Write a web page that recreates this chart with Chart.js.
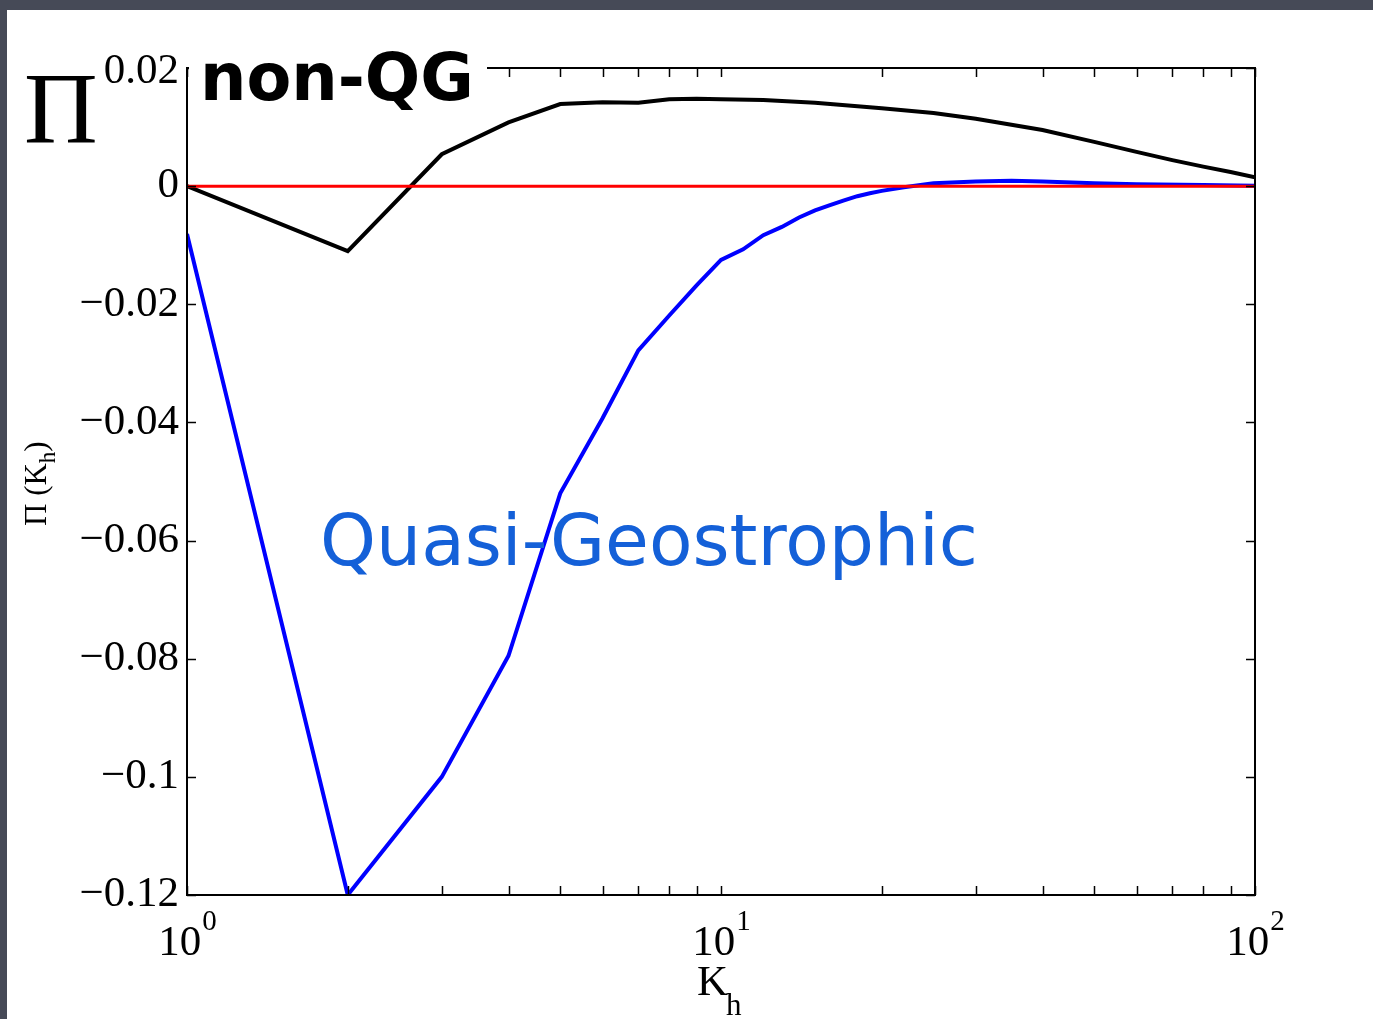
<!DOCTYPE html>
<html>
<head>
<meta charset="utf-8">
<script src="https://cdn.jsdelivr.net/npm/chart.js@4.4.1/dist/chart.umd.min.js"></script>
<style>
  html, body { margin: 0; padding: 0; }
  body { width: 1373px; height: 1019px; background: #464a57; position: relative; overflow: hidden; }
  #panel { position: absolute; left: 7px; top: 10px; width: 1366px; height: 1009px; background: #fff; }
  #wrap { position: absolute; left: 0; top: 0; width: 1373px; height: 1019px; }
</style>
</head>
<body>
<div id="panel"></div>
<div id="wrap"><canvas id="grafico" width="1373" height="1019"></canvas></div>
<script>
// dados
const kNonQG = [1, 2, 3, 4, 5, 6, 7, 8, 9, 10, 12, 15, 20, 25, 30, 40, 50, 60, 70, 80, 90, 100];
const piNonQG = [0, -0.011, 0.0054, 0.0108, 0.0139, 0.0142, 0.0141, 0.0147, 0.0148, 0.0147, 0.0146,
  0.0141, 0.0132, 0.0124, 0.0114, 0.0095, 0.0075, 0.0058, 0.0044, 0.0033, 0.0024, 0.0015];

const kQG = [1, 2, 3, 4, 5, 6, 7, 8, 9, 10, 11, 12, 13, 14, 15, 16, 17, 18, 19, 20, 22, 25, 30, 35, 40, 50, 60, 80, 100];
const piQG = [-0.0081, -0.12, -0.1, -0.0795, -0.052, -0.0393, -0.0278, -0.0219, -0.0168, -0.0125, -0.0107,
  -0.0083, -0.0069, -0.0053, -0.0041, -0.0032, -0.0024, -0.0017, -0.0012, -0.0008, -0.0002, 0.0005,
  0.0008, 0.0009, 0.0008, 0.0005, 0.0003, 0.0002, 0.00005];

const kZero = [1, 100];
const piZero = [0, 0];

const yTicks = [0.02, 0, -0.02, -0.04, -0.06, -0.08, -0.1, -0.12];
const yTickLabels = ['0.02', '0', '\u22120.02', '\u22120.04', '\u22120.06', '\u22120.08', '\u22120.1', '\u22120.12'];
const xMajor = [1, 10, 100];
const xExpoentes = ['0', '1', '2'];
const xMinor = [2, 3, 4, 5, 6, 7, 8, 9, 20, 30, 40, 50, 60, 70, 80, 90];

function pares(xs, ys) {
  let out = [];
  for (i = 0; i < xs.length; i++) {
    out.push({ x: xs[i], y: ys[i] });
  }
  return out;
}

const serif = '"Liberation Serif", "DejaVu Serif", serif';
const sans = '"DejaVu Sans", "Noto Sans", sans-serif';

function textoAjustado(ctx, txt, largura, peso) {
  let tam = 100;
  ctx.font = peso + ' ' + tam + 'px ' + sans;
  let w = ctx.measureText(txt).width;
  tam = tam * largura / w;
  ctx.font = peso + ' ' + tam + 'px ' + sans;
  return tam;
}

const enfeites = {
  id: 'enfeites',
  afterDraw(chart) {
    const ctx = chart.ctx;
    const a = chart.chartArea;
    const sx = chart.scales.x;
    const sy = chart.scales.y;
    ctx.save();

    // moldura
    ctx.strokeStyle = '#000';
    ctx.lineWidth = 2;
    ctx.strokeRect(a.left, a.top, a.right - a.left, a.bottom - a.top);

    // ticks para dentro
    ctx.lineWidth = 1.5;
    ctx.beginPath();
    yTicks.forEach(v => {
      const py = Math.round(sy.getPixelForValue(v)) + 0.5;
      ctx.moveTo(a.left, py); ctx.lineTo(a.left + 9, py);
      ctx.moveTo(a.right, py); ctx.lineTo(a.right - 9, py);
    });
    xMinor.concat(xMajor).forEach(v => {
      const px = Math.round(sx.getPixelForValue(v)) + 0.5;
      ctx.moveTo(px, a.bottom); ctx.lineTo(px, a.bottom - 9);
      ctx.moveTo(px, a.top); ctx.lineTo(px, a.top + 9);
    });
    ctx.stroke();

    // rotulos eixo y
    ctx.fillStyle = '#000';
    ctx.font = '43px ' + serif;
    ctx.textAlign = 'right';
    ctx.textBaseline = 'middle';
    yTicks.forEach((v, i) => {
      let py = sy.getPixelForValue(v);
      if (i === 0) py += 4;
      ctx.fillText(yTickLabels[i], a.left - 8, py);
    });

    // rotulos eixo x  (10^n)
    ctx.textBaseline = 'alphabetic';
    ctx.textAlign = 'left';
    xMajor.forEach((v, i) => {
      const px = sx.getPixelForValue(v);
      ctx.font = '43px ' + serif;
      const wb = ctx.measureText('10').width;
      ctx.font = '29px ' + serif;
      const we = ctx.measureText(xExpoentes[i]).width;
      const x0 = px - (wb + we) / 2;
      ctx.font = '43px ' + serif;
      ctx.fillText('10', x0, a.bottom + 60);
      ctx.font = '29px ' + serif;
      ctx.fillText(xExpoentes[i], x0 + wb + 1, a.bottom + 35);
    });

    // titulo eixo x: K_h
    ctx.font = '43px ' + serif;
    ctx.fillText('K', 697, 995);
    ctx.font = '31px ' + serif;
    ctx.fillText('h', 726, 1015);

    // titulo eixo y: Π (K_h)
    ctx.save();
    ctx.translate(46, 526);
    ctx.rotate(-Math.PI / 2);
    ctx.font = '31px ' + serif;
    let xx = 0;
    ctx.fillText('\u03A0 (K', xx, 0);
    xx += ctx.measureText('\u03A0 (K').width;
    ctx.font = '23px ' + serif;
    ctx.fillText('h', xx, 9);
    xx += ctx.measureText('h').width;
    ctx.font = '31px ' + serif;
    ctx.fillText(')', xx, 0);
    ctx.restore();

    // Π grande
    ctx.font = '102px ' + serif;
    ctx.fillText('\u03A0', 24, 143);

    // caixa branca + non-QG
    ctx.fillStyle = '#fff';
    ctx.fillRect(a.left + 2, 40, 487 - a.left - 2, 62);
    ctx.fillStyle = '#000';
    textoAjustado(ctx, 'non-QG', 274, 'bold');
    ctx.fillText('non-QG', 200, 100);

    // Quasi-Geostrophic
    ctx.fillStyle = '#1460d8';
    textoAjustado(ctx, 'Quasi-Geostrophic', 658, 'normal');
    ctx.fillText('Quasi-Geostrophic', 320, 565);

    ctx.restore();
  }
};

const config = {
  type: 'line',
  data: {
    datasets: [
      { label: 'zero', data: pares(kZero, piZero), borderColor: '#ff0000', borderWidth: 3, pointRadius: 0 },
      { label: 'non-QG', data: pares(kNonQG, piNonQG), borderColor: '#000000', borderWidth: 4, pointRadius: 0, tension: 0 },
      { label: 'QG', data: pares(kQG, piQG), borderColor: '#0000ff', borderWidth: 4, pointRadius: 0, tension: 0 }
    ]
  },
  options: {
    responsive: false,
    animation: false,
    layout: { padding: { left: 0, top: 68, right: 118, bottom: 124 } },
    plugins: { legend: { display: false }, tooltip: { enabled: false } },
    scales: {
      x: {
        type: 'logarithmic', min: 1, max: 100,
        ticks: { display: false }, grid: { display: false }, border: { display: false },
        afterFit: s => { s.height = 0; }
      },
      y: {
        type: 'linear', min: -0.12, max: 0.02,
        ticks: { display: false }, grid: { display: false }, border: { display: false },
        afterFit: s => { s.width = 187; }
      }
    }
  },
  plugins: [enfeites]
};

var ctx = document.getElementById('grafico').getContext('2d');
let myChart = new Chart(ctx, config);
</script>
</body>
</html>
